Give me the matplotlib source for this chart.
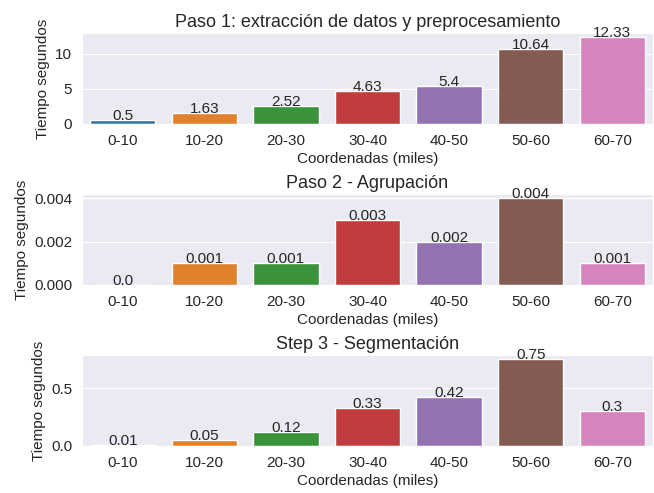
import matplotlib
matplotlib.use('Agg')
import matplotlib.pyplot as plt
from matplotlib.ticker import MaxNLocator
import seaborn as sns

sns.set_style('darkgrid')
plt.rcParams['font.family'] = ['Liberation Sans', 'DejaVu Sans']

# datos
coordenadas = ['0-10', '10-20', '20-30', '30-40', '40-50', '50-60', '60-70']
paso1 = [0.5, 1.63, 2.52, 4.63, 5.4, 10.64, 12.33]
paso2 = [0.0, 0.001, 0.001, 0.003, 0.002, 0.004, 0.001]
paso3 = [0.01, 0.05, 0.12, 0.33, 0.42, 0.75, 0.3]
titulos = ['Paso 1: extracción de datos y preprocesamiento',
           'Paso 2 - Agrupación',
           'Step 3 - Segmentación']

fig, axes = plt.subplots(3, 1, figsize=(6.54, 4.93), dpi=100)

for ax, valores, titulo in zip(axes, [paso1, paso2, paso3], titulos):
    sns.barplot(x=coordenadas, y=valores, hue=coordenadas, palette='tab10',
                legend=False, ax=ax)
    for i, v in enumerate(valores):
        ax.text(i, v, str(v), ha='center', fontsize=11)
    ax.set_title(titulo, fontsize=13, pad=4)
    ax.set_xlabel('Coordenadas (miles)', fontsize=11, labelpad=3)
    ax.set_ylabel('Tiempo segundos', fontsize=11)
    ax.tick_params(labelsize=11)
    ax.yaxis.set_major_locator(MaxNLocator(nbins=3, steps=[1, 2, 2.5, 5, 10]))

fig.subplots_adjust(left=82/654, right=653/654, top=1 - 33/493,
                    bottom=1 - 446/493, hspace=0.77)
plt.savefig('out.png', dpi=100)
